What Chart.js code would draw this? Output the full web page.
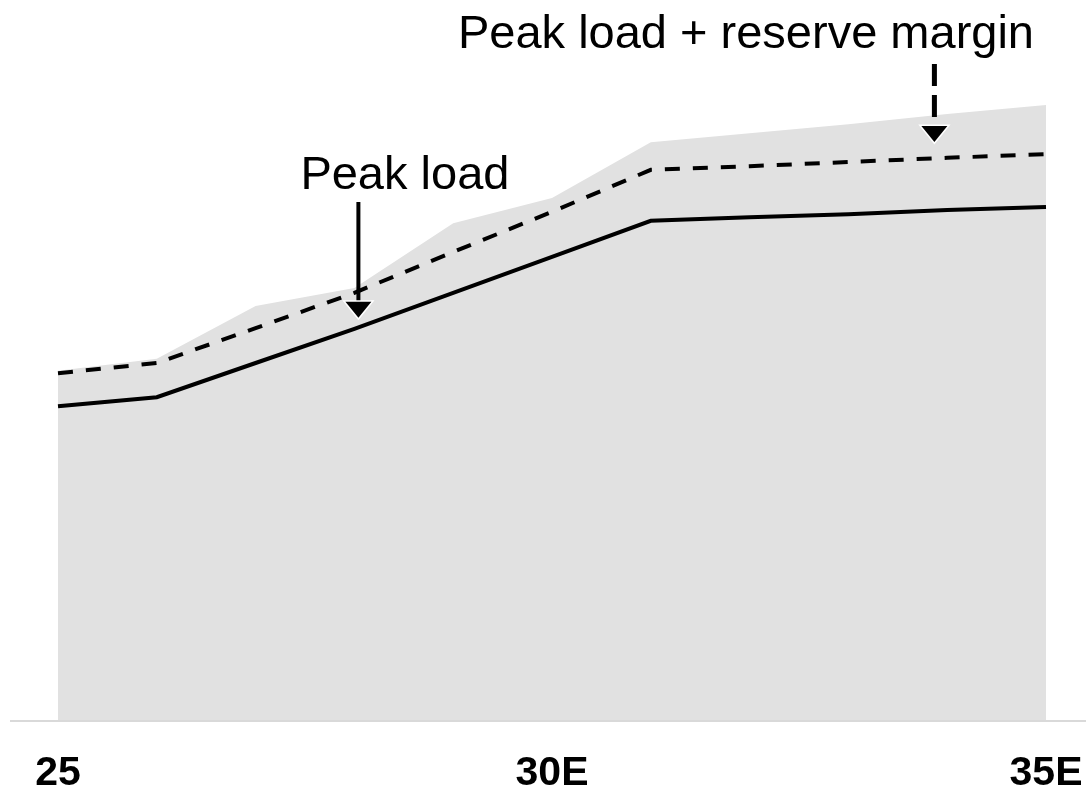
<!DOCTYPE html>
<html>
<head>
<meta charset="utf-8">
<script src="https://cdn.jsdelivr.net/npm/chart.js@4"></script>
<style>
  html, body { margin: 0; padding: 0; background: #ffffff; }
  #wrap { width: 1086px; height: 789px; position: relative; }
</style>
</head>
<body>
<div id="wrap"><canvas id="c"></canvas></div>
<script>
// ---- Data ----
const categories = ['25', '26E', '27E', '28E', '29E', '30E', '31E', '32E', '33E', '34E', '35E'];
const shownTickLabels = ['25', '30E', '35E'];
const capacity = [58.2, 60.2, 69.0, 72.0, 82.8, 87.0, 96.3, 97.8, 99.3, 101.0, 102.5];
const peakLoadPlusReserve = [57.8, 59.5, 65.3, 71.2, 78.0, 84.7, 91.7, 92.3, 93.0, 93.7, 94.3];
const peakLoad = [52.3, 53.8, 59.5, 65.2, 71.2, 77.2, 83.2, 83.8, 84.3, 85.0, 85.5];
const annotationLabels = ['Peak load', 'Peak load + reserve margin'];

const FONT = '"Liberation Sans", Arial, Helvetica, sans-serif';

function arrowHead(ctx, x, yTop, yTip, halfW) {
  ctx.beginPath();
  ctx.moveTo(x - halfW, yTop);
  ctx.lineTo(x + halfW, yTop);
  ctx.lineTo(x, yTip);
  ctx.closePath();
  ctx.setLineDash([]);
  ctx.lineWidth = 3;
  ctx.strokeStyle = '#ffffff';
  ctx.stroke();
  ctx.fillStyle = '#000000';
  ctx.fill();
}

const decorPlugin = {
  id: 'decor',
  afterDatasetsDraw(chart) {
    const ctx = chart.ctx;
    const xs = chart.scales.x, ys = chart.scales.y;
    ctx.save();
    // baseline
    const by = Math.round(ys.getPixelForValue(0)) + 1;
    ctx.beginPath();
    ctx.moveTo(10, by);
    ctx.lineTo(chart.width, by);
    ctx.lineWidth = 2;
    ctx.strokeStyle = '#d9d9d9';
    ctx.stroke();

    // Peak load annotation
    const ax = xs.getPixelForValue(3) + 4;
    const tip1 = ys.getPixelForValue(peakLoad[3]) - 11;
    ctx.fillStyle = '#000';
    ctx.font = '47px ' + FONT;
    ctx.textAlign = 'center';
    ctx.textBaseline = 'alphabetic';
    ctx.fillText(annotationLabels[0], ax + 46.5, 189);
    ctx.beginPath();
    ctx.moveTo(ax, 202);
    ctx.lineTo(ax, tip1 - 15);
    ctx.lineWidth = 4;
    ctx.strokeStyle = '#000';
    ctx.setLineDash([]);
    ctx.stroke();
    arrowHead(ctx, ax, tip1 - 16, tip1, 13);

    // Reserve margin annotation
    const bx = xs.getPixelForValue(8) + 86 / 98.8 * (xs.getPixelForValue(9) - xs.getPixelForValue(8));
    const tip2 = 142;
    ctx.fillStyle = '#000';
    ctx.textAlign = 'right';
    ctx.fillText(annotationLabels[1], 1034, 48);
    ctx.beginPath();
    ctx.moveTo(bx, 64);
    ctx.lineTo(bx, tip2 - 16);
    ctx.lineWidth = 5;
    ctx.strokeStyle = '#000';
    ctx.setLineDash([22, 9]);
    ctx.stroke();
    arrowHead(ctx, bx, tip2 - 16, tip2, 13);
    ctx.restore();
  }
};

new Chart(document.getElementById('c'), {
  type: 'line',
  data: {
    labels: categories,
    datasets: [
      {
        label: 'Peak load',
        data: peakLoad,
        borderColor: '#000000',
        borderWidth: 4,
        pointRadius: 0,
        tension: 0,
        fill: false,
        order: 1
      },
      {
        label: 'Peak load + reserve margin',
        data: peakLoadPlusReserve,
        borderColor: '#000000',
        borderWidth: 4,
        borderDash: [15, 13],
        pointRadius: 0,
        tension: 0,
        fill: false,
        order: 2
      },
      {
        label: 'Capacity',
        data: capacity,
        borderWidth: 0,
        borderColor: 'rgba(0,0,0,0)',
        backgroundColor: '#e1e1e1',
        pointRadius: 0,
        tension: 0,
        fill: 'origin',
        order: 3
      }
    ]
  },
  options: {
    responsive: true,
    maintainAspectRatio: false,
    animation: false,
    devicePixelRatio: 1,
    layout: { padding: { left: 58, right: 40, top: 0, bottom: 0 } },
    plugins: { legend: { display: false }, tooltip: { enabled: false } },
    scales: {
      x: {
        grid: { display: false, drawTicks: false },
        border: { display: false },
        afterFit(scale) {
          scale.height = 69;
          scale.paddingLeft = 0;
          scale.paddingRight = 0;
        },
        ticks: {
          autoSkip: false,
          maxRotation: 0,
          padding: 29,
          color: '#000000',
          font: { family: FONT, size: 41, weight: 'bold' },
          callback(value) {
            const lab = this.getLabelForValue(value);
            return shownTickLabels.includes(lab) ? lab : '';
          }
        }
      },
      y: {
        display: false,
        min: 0,
        max: 120
      }
    }
  },
  plugins: [decorPlugin]
});
</script>
</body>
</html>
